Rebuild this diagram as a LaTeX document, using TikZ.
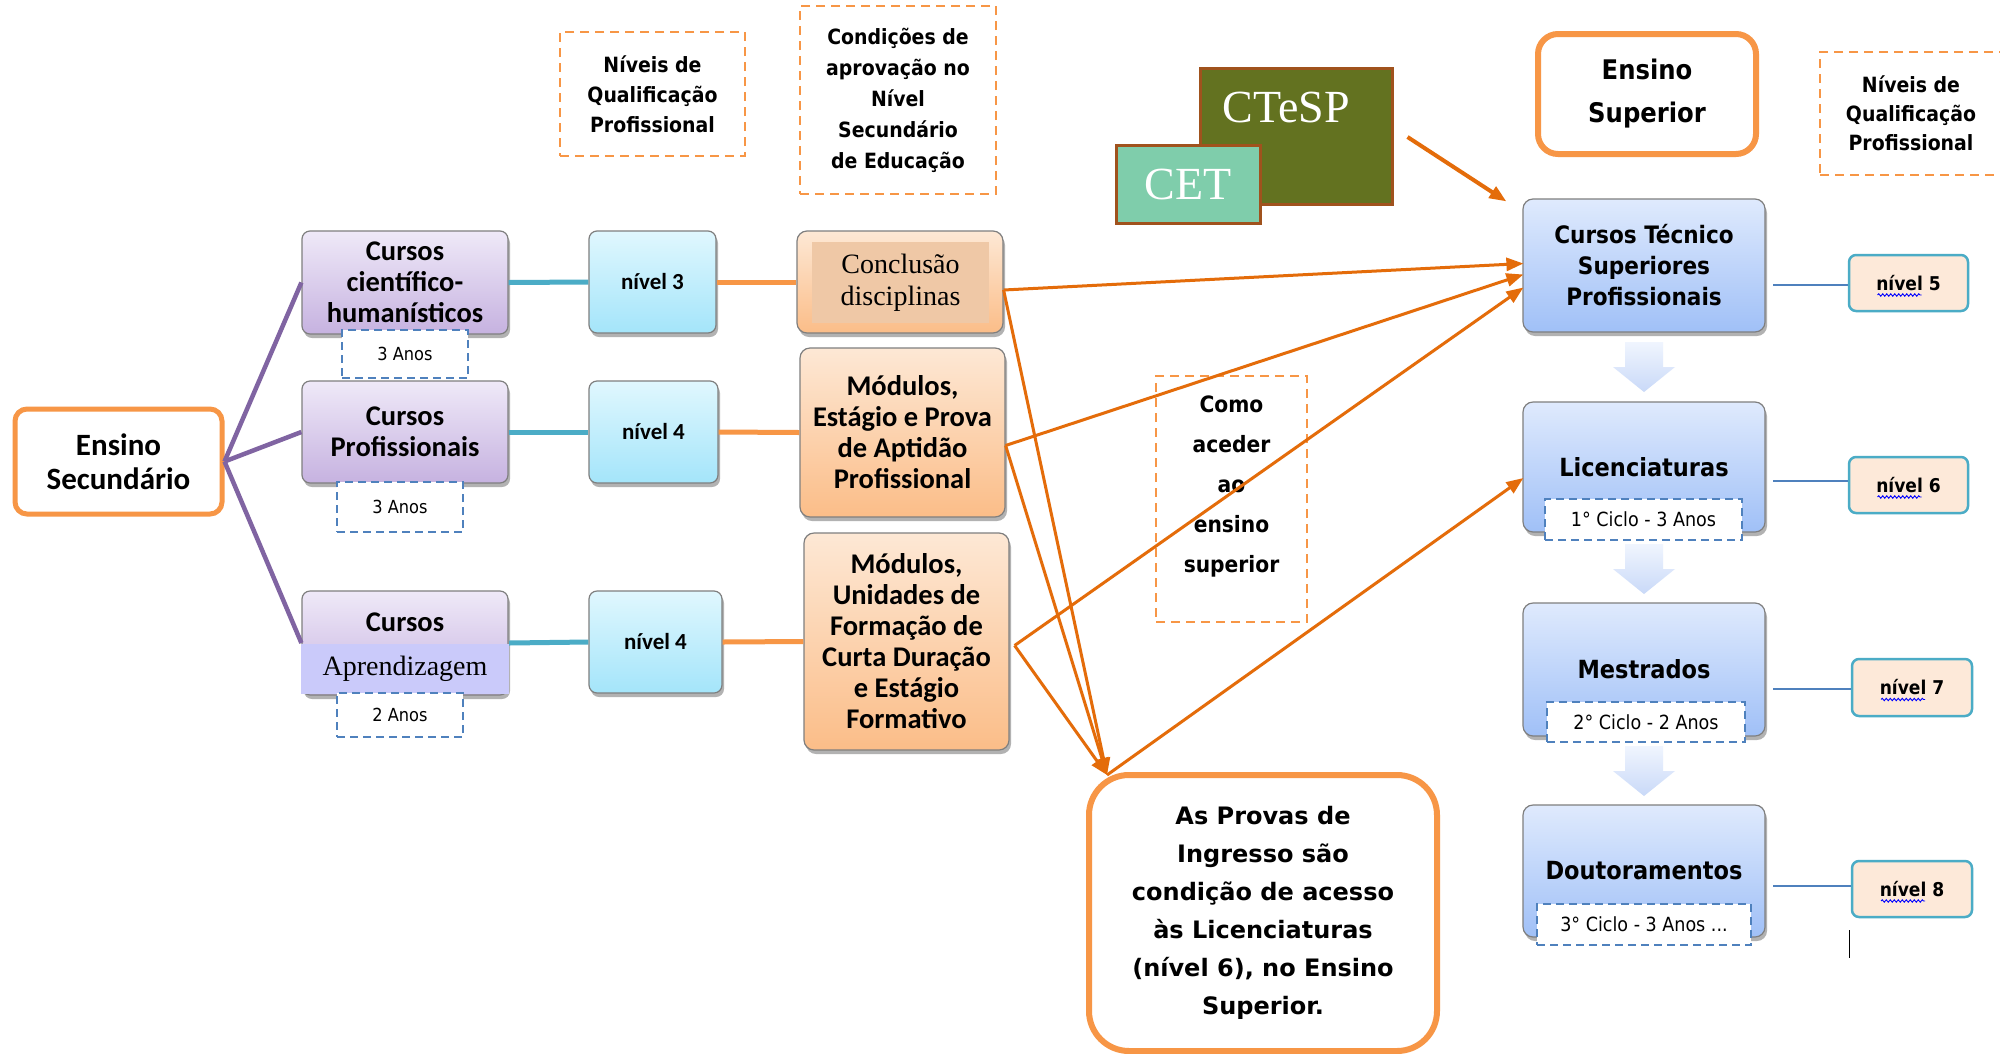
\documentclass[tikz,border=0pt]{standalone}
\usepackage{fontspec}
\setmainfont{Carlito}
\newfontfamily\tah{DejaVu Sans Condensed}
\newfontfamily\tahw{DejaVu Sans}
\newfontfamily\gar{Liberation Serif}
\usetikzlibrary{shadows,arrows.meta,decorations.pathmorphing,calc}
\definecolor{orB}{HTML}{F79646}
\definecolor{orA}{HTML}{E46C0A}
\definecolor{purL}{HTML}{8064A2}
\definecolor{tealL}{HTML}{4BACC6}
\definecolor{dblue}{HTML}{4F81BD}
\definecolor{purT}{HTML}{EFE9F8}
\definecolor{purB}{HTML}{C6B2E0}
\definecolor{bandC}{HTML}{CACAFA}
\definecolor{cyT}{HTML}{E0F7FE}
\definecolor{cyB}{HTML}{A4E5FA}
\definecolor{orT}{HTML}{FDE8D5}
\definecolor{orBo}{HTML}{FBBD88}
\definecolor{concC}{HTML}{EFC8A6}
\definecolor{blT}{HTML}{DFEAFD}
\definecolor{blB}{HTML}{A0C0F7}
\definecolor{peach}{HTML}{FDE9D9}
\definecolor{olive}{HTML}{637220}
\definecolor{brownB}{HTML}{A0521D}
\definecolor{mint}{HTML}{7FCDAB}
\definecolor{baT}{HTML}{F0F5FE}
\definecolor{baB}{HTML}{C9D9F8}
\definecolor{grayB}{HTML}{7F7F7F}
\newcommand\fsz[2]{\fontsize{#1}{#2}\selectfont}
\tikzset{
  shd/.style={drop shadow={shadow xshift=2pt,shadow yshift=-4pt,opacity=0.3,fill=black}},
  thickbox/.style={draw=orB,line width=5pt,fill=white,align=center,inner sep=0pt},
  purbox/.style={draw=grayB,line width=1.2pt,rounded corners=8pt,top color=purT,bottom color=purB,shd,align=center,inner sep=0pt},
  cybox/.style={draw=grayB,line width=1.2pt,rounded corners=8pt,top color=cyT,bottom color=cyB,shd,align=center,inner sep=0pt,font=\fsz{23}{27}\bfseries},
  orbox/.style={draw=grayB,line width=1.2pt,rounded corners=10pt,top color=orT,bottom color=orBo,shd,align=center,inner sep=0pt,font=\fsz{28.5}{31}\bfseries},
  blbox/.style={draw=grayB,line width=1.2pt,rounded corners=10pt,top color=blT,bottom color=blB,shd,align=center,inner sep=0pt,font=\tah\fsz{25}{31}\bfseries},
  anos/.style={draw=dblue,dash pattern=on 8pt off 5pt,line width=2.2pt,fill=white,inner sep=0pt,font=\tah\fsz{18}{22}},
  ciclo/.style={anos,font=\tah\fsz{19.5}{22}},
  obox/.style={draw=orB,dash pattern=on 9pt off 6pt,line width=2.3pt,align=center,inner sep=0pt},
  nivbox/.style={draw=tealL,line width=2.5pt,rounded corners=7pt,fill=peach,inner sep=0pt,font=\tah\fsz{19}{23}\bfseries},
  purline/.style={draw=purL,line width=4.5pt},
  tline/.style={draw=tealL,line width=5pt},
  oline/.style={draw=orB,line width=5pt},
  oarr/.style={draw=orA,line width=3pt,-{Triangle[length=17pt,width=13pt]}},
  bline/.style={draw=dblue,line width=2pt},
  wav/.style={draw=blue,line width=0.9pt,decorate,decoration={snake,amplitude=1.2pt,segment length=4pt}},
  barrow/.style={top color=baT,bottom color=baB,draw=none},
}
\begin{document}
\begin{tikzpicture}[x=1pt,y=-1pt]
\useasboundingbox (0,0) rectangle (2000,1053);
\fill[white] (0,0) rectangle (2000,1053);
\clip (0,0) rectangle (2000,1053);

% ---------- left column ----------
\node[thickbox,rounded corners=12pt,minimum width=207,minimum height=105,font=\fsz{31}{34}\bfseries] (es) at (118.5,461.5) {Ensino\\Secundário};

\node[purbox,minimum width=206,minimum height=103,font=\fsz{28.5}{31}\bfseries] (c1) at (405,282.5) {Cursos\\científico-\\humanísticos};
\node[purbox,minimum width=206,minimum height=102,font=\fsz{28.5}{31}\bfseries] (c2) at (405,432) {Cursos\\Profissionais};
\node[purbox,minimum width=206,minimum height=104] (c3) at (405,643) {};
\node[font=\fsz{28.5}{31}\bfseries] (c3t) at (405,622) {Cursos};
\node[fill=bandC,minimum width=208,minimum height=50,inner sep=0pt,font=\gar\fsz{28}{31}] (ap) at (405,669) {Aprendizagem};

\node[anos,minimum width=126,minimum height=48] (a1) at (405,354) {3 Anos};
\node[anos,minimum width=126,minimum height=50] (a2) at (400,507) {3 Anos};
\node[anos,minimum width=126,minimum height=44] (a3) at (400,715) {2 Anos};

\draw[purline] (es.east) -- (c1.west);
\draw[purline] (es.east) -- (c2.west);
\draw[purline] (es.east) -- (c3.west);

% ---------- levels ----------
\node[cybox,minimum width=127,minimum height=102] (n3) at (652.5,282) {nível 3};
\node[cybox,minimum width=129,minimum height=102] (n4a) at (653.5,432) {nível 4};
\node[cybox,minimum width=133,minimum height=102] (n4b) at (655.5,642) {nível 4};

\draw[tline] (c1.east) -- (n3.west);
\draw[tline] (c2.east) -- (n4a.west);
\draw[tline] (ap.east |- c3.west) -- (n4b.west);

% ---------- conditions ----------
\node[orbox,minimum width=206,minimum height=102] (m1) at (900,282) {};
\node[fill=concC,minimum width=177,minimum height=81,inner sep=0pt,align=center,font=\gar\fsz{28}{32}] (m1t) at (900.5,282.5) {Conclusão\\disciplinas};
\node[orbox,minimum width=205,minimum height=169] (m2) at (902.5,432.5) {Módulos,\\Estágio e Prova\\de Aptidão\\Profissional};
\node[orbox,minimum width=205,minimum height=217] (m3) at (906.5,641.5) {Módulos,\\Unidades de\\Formação de\\Curta Duração\\e Estágio\\Formativo};

\draw[oline] (n3.east) -- (m1.west);
\draw[oline] (n4a.east) -- (m2.west);
\draw[oline] (n4b.east) -- (m3.west);

% ---------- header dashed boxes ----------
\node[obox,minimum width=185,minimum height=124,font=\tah\fsz{21}{30}\bfseries] (q1) at (652.5,94) {Níveis de\\Qualificação\\Profissional};
\node[obox,minimum width=196,minimum height=188,font=\tah\fsz{21}{31}\bfseries] (q2) at (898,100) {Condições de\\aprovação no\\Nível\\Secundário\\de Educação};

% ---------- CTeSP / CET ----------
\node[draw=brownB,line width=3pt,fill=olive,minimum width=192,minimum height=136,inner sep=0pt] (ctesp) at (1296,136) {};
\node[text=white,font=\gar\fsz{46}{50}] (ctespt) at (1286,107) {CTeSP};
\node[draw=brownB,line width=3pt,fill=mint,minimum width=144,minimum height=78,inner sep=0pt,text=white,font=\gar\fsz{46}{50}] (cet) at (1188,184) {CET};

% ---------- higher education ----------
\node[thickbox,line width=6pt,rounded corners=20pt,minimum width=218,minimum height=120,font=\tah\fsz{27}{43}\bfseries] (es2) at (1647,94) {Ensino\\Superior};
\node[obox,minimum width=190,minimum height=123] (q3) at (1915,113.5) {};
\node[align=center,font=\tah\fsz{21}{29}\bfseries] (q3t) at (1911,113) {Níveis de\\Qualificação\\Profissional};

\node[blbox,minimum width=242,minimum height=133,font=\tah\fsz{24}{31}\bfseries] (cts) at (1644,265.5) {Cursos Técnico\\Superiores\\Profissionais};
\node[blbox,minimum width=242,minimum height=130] (lic) at (1644,467) {Licenciaturas};
\node[blbox,minimum width=242,minimum height=133] (mes) at (1644,669.5) {Mestrados};
\node[blbox,minimum width=242,minimum height=132] (dou) at (1644,871) {Doutoramentos};

\node[ciclo,minimum width=197,minimum height=41] (d1) at (1643.5,519.5) {1° Ciclo - 3 Anos};
\node[ciclo,minimum width=198,minimum height=40] (d2) at (1646,722) {2° Ciclo - 2 Anos};
\node[ciclo,minimum width=214,minimum height=41] (d3) at (1644,924.5) {3° Ciclo - 3 Anos ...};

\foreach \yy in {342,544,746} {
  \path[barrow] (1625,\yy) -- ++(38,0) -- ++(0,25) -- ++(12,0) -- ++(-31,25) -- ++(-31,-25) -- ++(12,0) -- cycle;
}

\node[nivbox,minimum width=119,minimum height=56] (l5) at (1908.5,283) {nível 5};
\node[nivbox,minimum width=119,minimum height=56] (l6) at (1908.5,485) {nível 6};
\node[nivbox,minimum width=120,minimum height=57] (l7) at (1912,687.5) {nível 7};
\node[nivbox,minimum width=120,minimum height=56] (l8) at (1912,889) {nível 8};
\foreach \n in {l5,l6,l7,l8} {
  \draw[wav] ($(\n.center)+(-31,12)$) -- ++(44,0);
}

\draw[bline] ($(l5.west)+(0,2)$) -- ($(l5.west -| cts.east)+(7,2)$);
\draw[bline] ($(l6.west)+(0,-4)$) -- ($(l6.west -| lic.east)+(7,-4)$);
\draw[bline] ($(l7.west)+(0,1.5)$) -- ($(l7.west -| mes.east)+(7,1.5)$);
\draw[bline] ($(l8.west)+(0,-3)$) -- ($(l8.west -| dou.east)+(7,-3)$);

\coordinate (cur1) at ($(l8.south west)+(-1,12)$);
\coordinate (cur2) at ($(l8.south west)+(-1,40)$);
\draw[black,line width=1.2pt] (cur1) -- (cur2);

% ---------- access ----------
\node[obox,minimum width=151,minimum height=246] (ca) at (1231.5,499) {};
\node[align=center,font=\tah\fsz{22.5}{40}\bfseries] (cat) at (1231.5,486) {Como\\aceder\\ao\\ensino\\superior};

\node[thickbox,line width=6pt,rounded corners=40pt,minimum width=348,minimum height=276,font=\tahw\fsz{24}{38}\bfseries] (pv) at (1263,913) {As Provas de\\Ingresso são\\condição de acesso\\às Licenciaturas\\(nível 6), no Ensino\\Superior.};

% ---------- orange arrows ----------
\coordinate (o1) at ($(m1.east)+(0,8)$);
\coordinate (o2) at ($(m2.east)+(0,13)$);
\coordinate (o3) at ($(m3.east)+(5,4)$);
\coordinate (pvin) at ($(pv.north west)+(21,3)$);
\coordinate (ctsA) at ($(cts.west)+(1,-2)$);
\coordinate (ctsB) at ($(cts.west)+(1,9)$);
\coordinate (ctsC) at ($(cts.west)+(1,22)$);
\coordinate (licA) at ($(lic.west)+(1,11)$);
\coordinate (ctspo) at ($(ctesp.east)+(14,1)$);
\coordinate (ctspi) at ($(cts.north west)+(-16,3)$);

\draw[oarr] (o1) -- (ctsA);
\draw[oarr] (o2) -- (ctsB);
\draw[oarr] (o3) -- (ctsC);
\draw[oarr] (o1) -- (pvin);
\draw[oarr] (o2) -- (pvin);
\draw[oarr] (o3) -- (pvin);
\draw[oarr] (pvin) -- (licA);
\draw[oarr,line width=4pt] (ctspo) -- (ctspi);
\end{tikzpicture}
\end{document}
